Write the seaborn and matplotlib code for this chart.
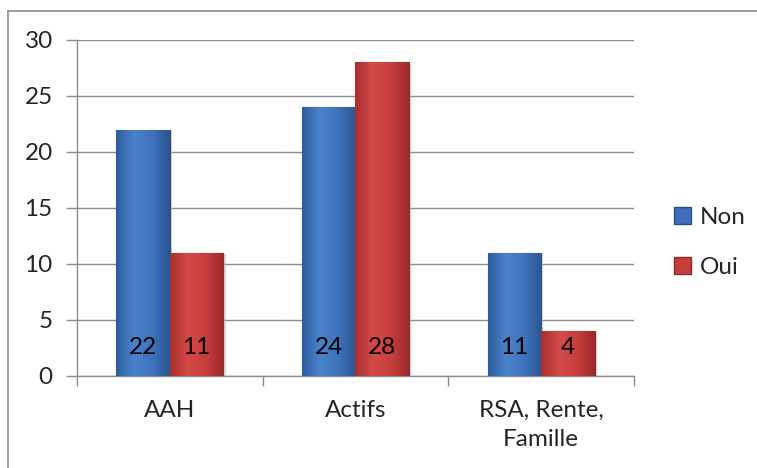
import matplotlib
matplotlib.use("Agg")
import matplotlib.pyplot as plt
import seaborn as sns
import numpy as np
import pandas as pd
from matplotlib.patches import Patch, Rectangle
from matplotlib.lines import Line2D
from matplotlib.colors import LinearSegmentedColormap

# data
categories = ["AAH", "Actifs", "RSA, Rente,\nFamille"]
non_values = [22, 24, 11]
oui_values = [11, 28, 4]
series = ["Non", "Oui"]
y_ticks = [0, 5, 10, 15, 20, 25, 30]

blue = "#3e6fb8"
red = "#c83c3c"
blue_edge = "#2b4f86"
red_edge = "#8e2a2a"

df = pd.DataFrame({
    "cat": categories * 2,
    "serie": ["Non"] * 3 + ["Oui"] * 3,
    "val": non_values + oui_values,
})

sns.set_style("white")
plt.rcParams["font.family"] = ["Lato", "DejaVu Sans"]

fig = plt.figure(figsize=(7.57, 4.68), dpi=100)
ax = fig.add_axes([77 / 757, 1 - 376 / 468, (634 - 77) / 757, (376 - 40) / 468])

sns.barplot(data=df, x="cat", y="val", hue="serie", order=categories,
            hue_order=series, palette=[blue, red], width=0.576,
            saturation=1, legend=False, ax=ax)

# soft horizontal shading so the bars look a bit like the excel ones
grad = {
    0: LinearSegmentedColormap.from_list("b", ["#2f5d9e", "#4a82cc", "#3f74bd", "#2c5592"]),
    1: LinearSegmentedColormap.from_list("r", ["#a83030", "#d44a48", "#c83e3d", "#9c2b2b"]),
}
edges = {0: blue_edge, 1: red_edge}
shade = np.linspace(0, 1, 64).reshape(1, -1)
for i, cont in enumerate(ax.containers):
    for p in cont:
        p.set_edgecolor(edges[i])
        p.set_linewidth(0.8)
        p.set_zorder(3)
        x0, w, h = p.get_x(), p.get_width(), p.get_height()
        im = ax.imshow(shade, cmap=grad[i], aspect="auto", extent=(x0, x0 + w, 0, h),
                       zorder=3.5, interpolation="bicubic")
        im.set_clip_path(p)
        sh = Rectangle((x0 + 0.012, 0), w, h - 0.15,
                       facecolor="#bbbbbb", edgecolor="none", zorder=2, alpha=0.6)
        ax.add_patch(sh)
        ax.text(x0 + w / 2, 2.5, f"{int(h)}",
                ha="center", va="center", fontsize=17.5, color="black", zorder=4)

ax.set_ylim(0, 30)
ax.set_xlim(-0.5, 2.5)
ax.set_yticks(y_ticks)
ax.yaxis.grid(True, color="#8c8c8c", linewidth=1.0)
ax.set_axisbelow(True)
for s in ["top", "right"]:
    ax.spines[s].set_visible(False)
for s in ["left", "bottom"]:
    ax.spines[s].set_color("#8c8c8c")
    ax.spines[s].set_linewidth(1.0)

ax.tick_params(axis="y", length=8, width=1, color="#8c8c8c", pad=9.5, labelsize=17.5, left=True)
ax.set_xticks(range(len(categories)), categories, linespacing=1.5)
ax.set_xticks([-0.5, 0.5, 1.5, 2.5], minor=True)
ax.tick_params(axis="x", which="minor", length=7, width=1, color="#8c8c8c", bottom=True)
ax.tick_params(axis="x", which="major", length=0, pad=17, labelsize=17.5)
ax.set_xlabel("")
ax.set_ylabel("")

handles = [Patch(facecolor=blue, edgecolor=blue_edge), Patch(facecolor=red, edgecolor=red_edge)]
fig.legend(handles, series, loc="center left", bbox_to_anchor=(0.862, 0.481),
           frameon=False, fontsize=17.5, handlelength=0.7, handleheight=0.7,
           handletextpad=0.35, labelspacing=1.2)

# chart area border (left and top only visible in the crop)
fig.add_artist(Line2D([8 / 757, 8 / 757], [0, 1 - 11 / 468], color="#8c8c8c", lw=1.2))
fig.add_artist(Line2D([8 / 757, 1], [1 - 11 / 468, 1 - 11 / 468], color="#8c8c8c", lw=1.2))

fig.savefig("out.png", dpi=100)
